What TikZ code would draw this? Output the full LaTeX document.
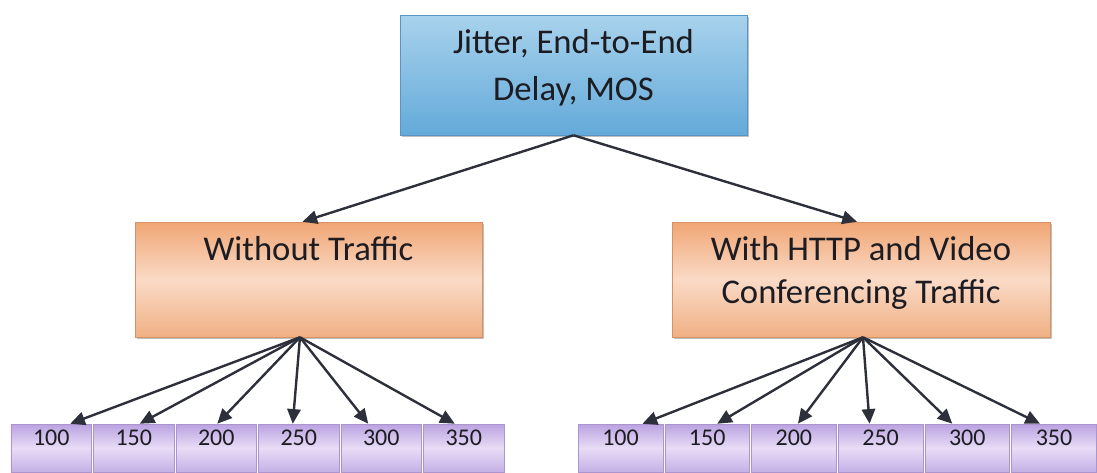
\documentclass[tikz,border=0pt]{standalone}
\usepackage{fontspec}
\setmainfont{Carlito}
\usetikzlibrary{arrows.meta,shadows,calc}
\definecolor{bluetop}{RGB}{168,210,236}
\definecolor{bluebot}{RGB}{100,170,218}
\definecolor{blueedge}{RGB}{88,148,196}
\definecolor{orangetop}{RGB}{240,166,116}
\definecolor{orangemid}{RGB}{250,218,198}
\definecolor{orangebot}{RGB}{240,176,132}
\definecolor{orangeedge}{RGB}{214,146,100}
\definecolor{purpletop}{RGB}{186,162,224}
\definecolor{purplemid}{RGB}{232,220,246}
\definecolor{purplebot}{RGB}{196,176,230}
\definecolor{purpleedge}{RGB}{172,148,206}
\definecolor{arrowgray}{RGB}{45,48,58}
\definecolor{textgray}{RGB}{28,28,34}
\tikzset{
  boxshadow/.style={drop shadow={shadow xshift=1.2pt,shadow yshift=-1.2pt,fill=black,opacity=0.25}},
  topbox/.style={draw=blueedge, top color=bluetop, bottom color=bluebot, boxshadow,
    minimum width=260.25pt, minimum height=90pt, inner sep=0pt, align=center,
    text height=63.75pt, text depth=26.25pt, text=textgray, font=\fontsize{26}{35.25}\selectfont},
  midbox/.style={draw=orangeedge, top color=orangetop, bottom color=orangebot, middle color=orangemid, boxshadow,
    minimum height=86.25pt, inner sep=0pt, align=center,
    text height=60.75pt, text depth=25.5pt, text=textgray, font=\fontsize{26}{32.25}\selectfont},
  valbox/.style={draw=purpleedge, top color=purpletop, bottom color=purplebot, middle color=purplemid,
    inner xsep=0pt, inner ysep=3pt, text height=12.75pt, text depth=17.25pt,
    text=textgray, font=\fontsize{18}{20}\selectfont},
  link/.style={draw=arrowgray, line width=1.8pt, -{Triangle[length=11pt,width=10pt]}}
}
\begin{document}
\begin{tikzpicture}[x=0.75pt,y=-0.75pt]
  \useasboundingbox (0,0) rectangle (1097,472);
  \node[topbox] (metrics) at (573.5,75) {Jitter, End-to-End\\Delay, MOS};
  \node[midbox, minimum width=260.25pt] (notraffic) at (308.5,279.5) {Without Traffic\\\strut};
  \node[midbox, minimum width=283.5pt] (traffic) at (861,279.5) {With HTTP and Video\\Conferencing Traffic};
  \foreach \v [count=\i from 0] in {100,150,...,350} {
    \node[valbox, minimum width=60.4pt] (a\v) at (51.25+82.5*\i,448) {\v};
    \node[valbox, minimum width=63.5pt] (b\v) at (620.5+86.7*\i,448) {\v};
  }
  \draw[link] (metrics.south) -- ([xshift=-4.5pt]notraffic.north);
  \draw[link] (metrics.south) -- ([xshift=-3pt]traffic.north);
  \foreach \v/\da/\db in {100/19/22,150/6/10,200/1/4,250/-6/-11,300/-13/-15,350/-9/-14} {
    \draw[link] ([xshift=-6.4pt]notraffic.south) -- ($(a\v.north)+(\da,0)$);
    \draw[link] ([xshift=1.5pt]traffic.south) -- ($(b\v.north)+(\db,0)$);
  }
\end{tikzpicture}
\end{document}
